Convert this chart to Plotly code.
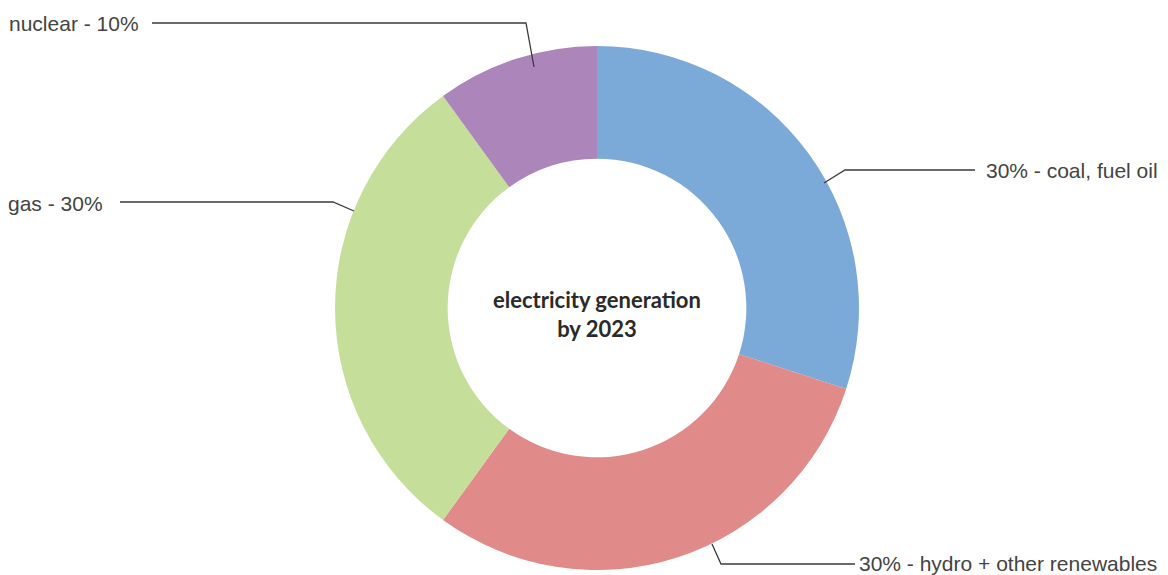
import plotly.graph_objects as go

W, H = 1168, 575

# ---- data ----
categories = ["coal, fuel oil", "hydro + other renewables", "gas", "nuclear"]
shares = [30, 30, 30, 10]
label_texts = ["30% - coal, fuel oil", "30% - hydro + other renewables", "gas - 30%", "nuclear - 10%"]
colors = ["#7BAAD9", "#E08A8A", "#C5DF9B", "#AC85BA"]
center_title = "electricity generation<br>by 2023"

# ---- layout helpers (pixel -> paper) ----
def px(x):
    return x / W

def py(y):
    return 1 - y / H

cx, cy, R = 597, 308, 262

fig = go.Figure(
    go.Pie(
        labels=categories,
        values=shares,
        hole=0.57,
        sort=False,
        direction="clockwise",
        rotation=0,
        textinfo="none",
        hoverinfo="label+percent",
        marker=dict(colors=colors, line=dict(width=0)),
        domain=dict(x=[px(cx - R), px(cx + R)], y=[py(cy + R), py(cy - R)]),
        showlegend=False,
    )
)

# leader lines: (slice anchor, elbow, line end), text position & anchor
leaders = [
    dict(pts=[(824, 183), (845, 170), (975, 170)], tx=984, ty=171, anchor="left"),
    dict(pts=[(712, 544), (721, 564), (855, 564)], tx=857, ty=563, anchor="left"),
    dict(pts=[(354, 211), (333, 202), (120, 202)], tx=105, ty=203, anchor="right"),
    dict(pts=[(534, 67), (526, 23), (152, 23)], tx=141, ty=23, anchor="right"),
]

shapes = []
annotations = []
for lab, ld in zip(label_texts, leaders):
    p = ld["pts"]
    path = "M {} {} L {} {} L {} {}".format(
        px(p[0][0]), py(p[0][1]), px(p[1][0]), py(p[1][1]), px(p[2][0]), py(p[2][1])
    )
    shapes.append(dict(type="path", xref="paper", yref="paper", path=path,
                       line=dict(color="#3a3a3a", width=1.3)))
    annotations.append(dict(
        x=px(ld["tx"]), y=py(ld["ty"]), xref="paper", yref="paper",
        text=lab, showarrow=False, xanchor=ld["anchor"], yanchor="middle",
        font=dict(family="Liberation Sans, Arial, sans-serif", size=21, color="#444444"),
    ))

annotations.append(dict(
    x=px(cx), y=py(cy + 6), xref="paper", yref="paper",
    text="<b>" + center_title + "</b>", showarrow=False,
    xanchor="center", yanchor="middle",
    font=dict(family="Lato, Open Sans, sans-serif", size=22, color="#2a2a2a"),
))

fig.update_layout(
    width=W, height=H,
    margin=dict(l=0, r=0, t=0, b=0),
    paper_bgcolor="white", plot_bgcolor="white",
    shapes=shapes,
    annotations=annotations,
)

fig.write_html("out.html")
